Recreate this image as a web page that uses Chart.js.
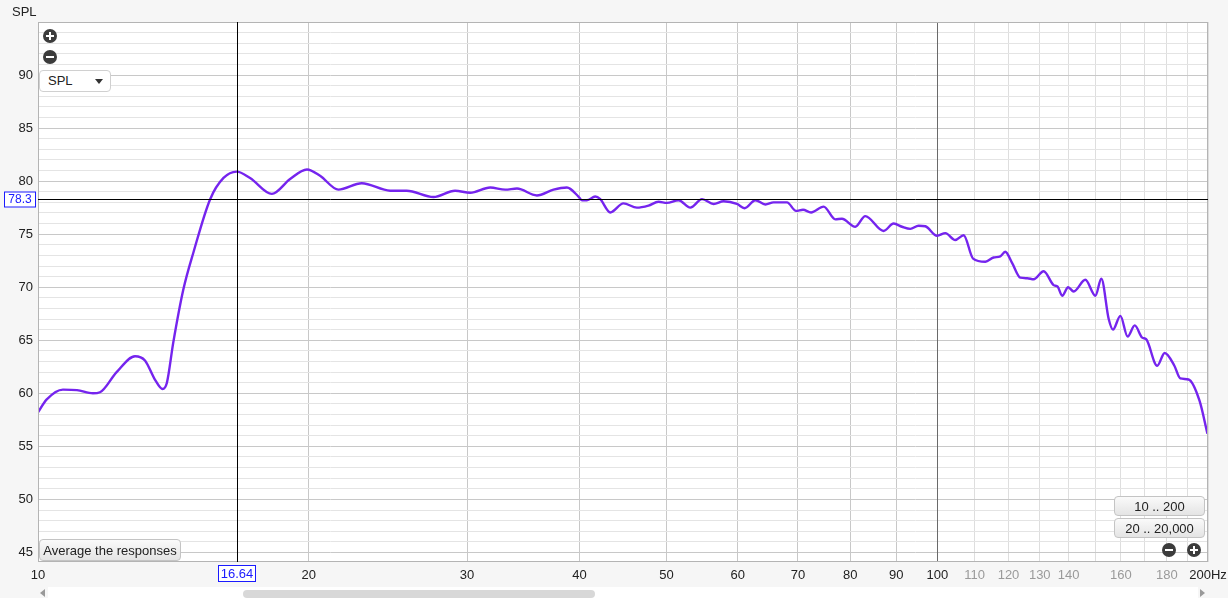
<!DOCTYPE html>
<html>
<head>
<meta charset="utf-8">
<script src="https://cdn.jsdelivr.net/npm/chart.js@4/dist/chart.umd.min.js"></script>
<style>
  html, body { margin: 0; padding: 0; background: #f6f6f6; }
  #wrap { position: relative; width: 1228px; height: 598px; overflow: hidden; font-family: "Liberation Sans", Arial, sans-serif; }
  #chart { position: absolute; left: 0; top: 0; }
  .btn {
    position: absolute; box-sizing: border-box; display: flex; align-items: center; justify-content: center;
    font-size: 13px; color: #222; border: 1px solid #c4c4c4; border-radius: 4px;
    background: linear-gradient(#fafafa, #e4e4e4);
  }
  .icon { position: absolute; width: 14px; height: 14px; border-radius: 50%; background: #3c3c3c; }
  .icon i { position: absolute; left: 3px; top: 6px; width: 8px; height: 2px; background: #fff; }
  .icon b { position: absolute; left: 6px; top: 3px; width: 2px; height: 8px; background: #fff; }
  #dd { position: absolute; left: 39px; top: 70px; width: 72px; height: 22px; box-sizing: border-box;
        background: #fff; border: 1px solid #d0d0d0; border-radius: 4px; font-size: 13px; color: #222;
        padding-left: 8px; line-height: 20px; }
  #dd span { position: absolute; right: 7px; top: 8px; width: 0; height: 0;
             border-left: 4px solid transparent; border-right: 4px solid transparent; border-top: 5px solid #333; }
  #title { position: absolute; left: 12px; top: 4px; font-size: 13px; color: #222; }
  #track { position: absolute; left: 48px; top: 587px; width: 1150px; height: 11px; background: #fff; }
  #thumb { position: absolute; left: 243px; top: 590px; width: 352px; height: 8px; border-radius: 4px; background: #d8d8d8; }
  .arr { position: absolute; top: 589px; width: 0; height: 0; border-top: 4px solid transparent; border-bottom: 4px solid transparent; }
</style>
</head>
<body>
<div id="wrap">
  <canvas id="chart" width="1228" height="598"></canvas>
  <div id="title">SPL</div>
  <div class="icon" style="left:43px;top:29px"><i></i><b></b></div>
  <div class="icon" style="left:43px;top:50px"><i></i></div>
  <div id="dd">SPL<span></span></div>
  <div class="btn" style="left:39px;top:539px;width:142px;height:22px">Average the responses</div>
  <div class="btn" style="left:1114px;top:496px;width:91px;height:20px">10 .. 200</div>
  <div class="btn" style="left:1114px;top:518px;width:91px;height:20px">20 .. 20,000</div>
  <div class="icon" style="left:1162px;top:543px"><i></i></div>
  <div class="icon" style="left:1187px;top:543px"><i></i><b></b></div>
  <div id="track"></div>
  <div id="thumb"></div>
  <div class="arr" style="left:40px;border-right:5px solid #999"></div>
  <div class="arr" style="left:1200px;border-left:5px solid #999"></div>
</div>
<script>
const freqs = [
  10.0, 10.22, 10.66, 11.05, 11.51, 11.72, 12.23, 12.82, 13.15, 13.49,
  13.76, 13.91, 14.14, 14.51, 14.89, 15.54, 16.08, 16.63, 17.21, 18.20,
  19.07, 19.91, 20.59, 21.58, 22.91, 24.64, 25.70, 27.53, 29.09, 30.24,
  31.83, 33.08, 34.09, 35.87, 37.43, 38.74, 39.9, 40.26, 40.78, 41.65,
  42.19, 43.29, 44.77, 46.34, 47.74, 48.98, 50.04, 51.55, 53.13, 54.75,
  56.40, 57.86, 59.88, 61.05, 62.76, 64.39, 65.76, 68.06, 69.65, 70.91,
  72.38, 74.75, 77.03, 78.34, 81.06, 83.16, 87.15, 89.43, 91.35, 93.33,
  95.33, 96.98, 99.93, 102.1, 104.7, 106.98, 109.6, 113.1, 115.5, 117.5,
  119.0, 121.1, 123.7, 125.9, 128.0, 131.3, 134.7, 136.1, 137.7, 139.8,
  141.8, 146.1, 149.9, 152.2, 155.1, 156.8, 159.8, 162.8, 165.8, 169.0,
  170.7, 175.6, 179.0, 183.5, 186.3, 190.3, 195.7, 199.7
];
const spl = [
  58.2, 59.4, 60.35, 60.3, 60.0, 60.1, 62.0, 63.5, 63.1, 61.3,
  60.4, 61.0, 64.8, 69.8, 73.3, 78.3, 80.3, 80.9, 80.3, 78.8,
  80.2, 81.1, 80.5, 79.2, 79.8, 79.1, 79.1, 78.5, 79.1, 78.9,
  79.4, 79.2, 79.3, 78.65, 79.2, 79.4, 78.55, 78.2, 78.2, 78.55,
  78.3, 77.05, 77.9, 77.5, 77.7, 78.05, 77.95, 78.2, 77.5, 78.3,
  77.85, 78.1, 77.85, 77.45, 78.2, 77.8, 78.0, 78.0, 77.2, 77.3,
  77.05, 77.6, 76.4, 76.45, 75.7, 76.7, 75.3, 76.0, 75.7, 75.5,
  75.8, 75.75, 74.85, 75.1, 74.45, 74.9, 72.7, 72.4, 72.8, 72.9,
  73.35, 72.3, 70.9, 70.85, 70.75, 71.5, 70.2, 70.05, 69.2, 70.0,
  69.6, 70.7, 69.2, 70.8, 67.0, 66.0, 67.3, 65.35, 66.4, 65.25,
  65.1, 62.6, 63.8, 62.6, 61.4, 61.3, 59.3, 56.2
];

const xTicks = [10, 20, 30, 40, 50, 60, 70, 80, 90, 100, 110, 120, 130, 140, 150, 160, 170, 180, 190, 200];
const xLabels = {10: '10', 20: '20', 30: '30', 40: '40', 50: '50', 60: '60', 70: '70', 80: '80', 90: '90',
  100: '100', 110: '110', 120: '120', 130: '130', 140: '140', 160: '160', 180: '180', 200: '200Hz'};
const yTicks = [];
for (let v = 45; v <= 95; v++) yTicks.push(v);

const cursorHz = 16.64;
const cursorDb = 78.3;
const decadeHz = 100;

const frame = {
  id: 'frame',
  beforeDraw(chart) {
    const { ctx, chartArea: a } = chart;
    ctx.save();
    ctx.fillStyle = '#ffffff';
    ctx.fillRect(a.left, a.top, a.right - a.left, a.bottom - a.top);
    ctx.restore();
  },
  beforeDatasetsDraw(chart) {
    // decade line sits over the horizontal grid
    const { ctx, chartArea: a, scales } = chart;
    const dx = Math.round(scales.x.getPixelForValue(decadeHz)) + 0.5;
    ctx.save();
    ctx.strokeStyle = '#6a6a6a';
    ctx.lineWidth = 1;
    ctx.beginPath();
    ctx.moveTo(dx, a.top); ctx.lineTo(dx, a.bottom);
    ctx.stroke();
    ctx.restore();
  },
  afterDraw(chart) {
    const { ctx, chartArea: a, scales } = chart;
    const cx = Math.round(scales.x.getPixelForValue(cursorHz)) + 0.5;
    const cy = Math.round(scales.y.getPixelForValue(cursorDb)) + 0.5;
    ctx.save();
    ctx.strokeStyle = '#b4b4b4';
    ctx.lineWidth = 1;
    ctx.strokeRect(a.left + 0.5, a.top + 0.5, a.right - a.left - 1, a.bottom - a.top - 1);

    // cursor
    ctx.strokeStyle = '#000';
    ctx.beginPath();
    ctx.moveTo(cx, a.top); ctx.lineTo(cx, a.bottom);
    ctx.moveTo(a.left, cy); ctx.lineTo(a.right, cy);
    ctx.stroke();

    ctx.font = '12px "Liberation Sans", Arial, sans-serif';
    ctx.textAlign = 'center';
    ctx.textBaseline = 'middle';
    // y readout
    ctx.fillStyle = '#fff';
    ctx.fillRect(4.5, cy - 7.5, 31, 15);
    ctx.strokeStyle = '#1a1aff';
    ctx.strokeRect(4.5, cy - 7.5, 31, 15);
    ctx.fillStyle = '#1a1aff';
    ctx.fillText(cursorDb.toFixed(1), 20, cy + 0.5);
    // x readout
    ctx.fillStyle = '#fff';
    ctx.fillRect(cx - 19, 565.5, 37, 16);
    ctx.strokeRect(cx - 19, 565.5, 37, 16);
    ctx.fillStyle = '#1a1aff';
    ctx.font = '13px "Liberation Sans", Arial, sans-serif';
    ctx.fillText(cursorHz.toFixed(2), cx - 0.5, 574);
    ctx.restore();
  }
};

new Chart(document.getElementById('chart'), {
  type: 'line',
  data: {
    datasets: [{
      data: freqs.map((f, i) => ({ x: f, y: spl[i] })),
      borderColor: '#7524ee',
      borderWidth: 2.4,
      pointRadius: 0,
      fill: false,
      cubicInterpolationMode: 'monotone'
    }]
  },
  options: {
    responsive: false,
    animation: false,
    events: [],
    layout: { padding: { top: 22, right: 20, left: 0, bottom: 0 } },
    plugins: { legend: { display: false }, tooltip: { enabled: false } },
    scales: {
      x: {
        type: 'logarithmic',
        min: 10,
        max: 200,
        afterBuildTicks: (scale) => { scale.ticks = xTicks.map(v => ({ value: v })); },
        afterFit: (scale) => { scale.height = 36; scale.paddingLeft = 0; scale.paddingRight = 0; },
        border: { display: false },
        grid: {
          drawTicks: false,
          color: (c) => {
            const v = c.tick ? c.tick.value : 0;
            if (v === 100) return '#6a6a6a';
            if (v > 100) return '#dedede';
            return '#c8c8c8';
          }
        },
        ticks: {
          autoSkip: false,
          maxRotation: 0,
          padding: 6,
          font: { family: '"Liberation Sans", Arial, sans-serif', size: 13 },
          color: (c) => (c.tick && c.tick.value > 100 && c.tick.value < 200) ? '#9a9a9a' : '#222',
          callback: (v) => xLabels[v] || ''
        }
      },
      y: {
        min: 44.1,
        max: 95,
        afterBuildTicks: (scale) => { scale.ticks = yTicks.map(v => ({ value: v })); },
        afterFit: (scale) => { scale.width = 38; scale.paddingTop = 0; scale.paddingBottom = 0; },
        border: { display: false },
        grid: {
          drawTicks: false,
          color: (c) => (c.tick && c.tick.value % 5 === 0) ? '#c8c8c8' : '#e4e4e4'
        },
        ticks: {
          autoSkip: false,
          padding: 5,
          font: { family: '"Liberation Sans", Arial, sans-serif', size: 13 },
          color: '#222',
          callback: (v) => (v % 5 === 0 && v < 95) ? String(v) : ''
        }
      }
    }
  },
  plugins: [frame]
});
</script>
</body>
</html>
